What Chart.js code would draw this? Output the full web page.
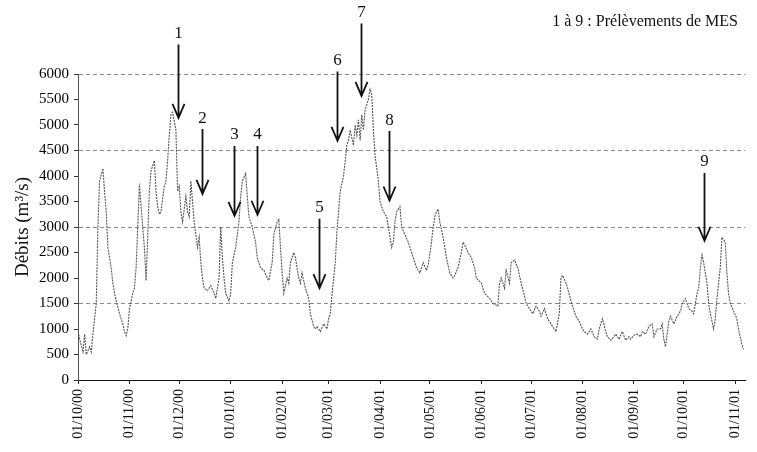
<!DOCTYPE html>
<html>
<head>
<meta charset="utf-8">
<script src="https://cdn.jsdelivr.net/npm/chart.js@4"></script>
<style>
    html, body { margin: 0; padding: 0; background: #fff; }
</style>
</head>
<body>
<canvas id="flowChart" width="757" height="452"></canvas>
<script>
// Daily discharge, 01/10/00 -> 01/11/01 (day 0 = 1 Oct 2000)
const flowDays = [
    0, 1, 3, 4, 5, 7, 8, 9, 11, 12, 13, 15, 16, 17, 18, 20, 21, 22, 23, 25,
    27, 28, 29, 30, 31, 33, 34, 35, 36, 37, 38, 40, 41, 42, 43, 44, 46, 47, 48, 49,
    50, 52, 53, 54, 55, 56, 57, 59, 60, 61, 62, 63, 65, 66, 67, 68, 69, 70, 72, 73,
    74, 75, 76, 78, 80, 82, 83, 85, 86, 87, 88, 89, 91, 92, 93, 94, 95, 97, 98, 99,
    101, 102,
    103, 105, 107, 108, 110, 112, 114, 115, 117, 118, 120, 121, 122, 123, 124, 126, 127, 128, 130, 131,
    133, 134, 135, 137, 139, 140, 142, 143, 144, 146, 148, 150, 151, 152, 153, 155, 156, 157, 158, 160,
    161, 162, 163, 164, 166, 167, 168, 169, 170, 171, 172, 173, 175, 176, 177, 178, 179, 181, 182, 184,
    186, 188, 189, 190, 191, 192, 194, 195, 197, 199, 201, 204, 206, 208, 210, 211, 213, 214, 215, 216,
    217, 218, 220, 222, 224, 226, 227, 229, 231, 232, 233, 235, 237, 239, 240, 243, 245, 248, 250,
    253, 254, 255, 257, 258, 260, 261, 263, 265, 267, 269, 270, 272, 274, 276, 278, 279, 281, 283, 285,
    287, 288, 290, 291, 292, 294, 295, 297, 299, 300, 302, 304, 305, 307, 309, 311, 313, 314, 316, 318,
    319, 321, 323, 324, 326, 328, 330, 332, 333, 335, 337, 339, 340, 342, 344, 346, 347, 349, 351, 352,
    353, 354, 356, 357, 359, 361, 363, 364, 366, 368, 370, 371, 373, 374, 375, 376, 377, 379, 380, 381,
    382, 383, 384, 385, 386, 387, 388, 390, 391, 392, 393, 395, 397, 398, 400, 401
];
const flowValues = [
    950, 800, 550, 900, 500, 650, 550, 900, 1500, 3000, 3900, 4150, 3700, 3300, 2600, 2200, 1900, 1700, 1550, 1300,
    1100, 950, 870, 1000, 1400, 1700, 1800, 2200, 3000, 3850, 3400, 2600, 1950, 2800, 3700, 4100, 4300, 3700, 3400, 3250,
    3300, 3800, 3900, 4300, 4800, 5200, 5250, 4900, 3700, 3800, 3300, 3100, 3600, 3300, 3200, 3900, 3500, 3100, 2600, 2800,
    2300, 2000, 1800, 1750, 1850, 1700, 1600, 2000, 3000, 2400, 2000, 1700, 1550, 1700, 2300, 2450, 2600, 3100, 3600, 3900,
    4050, 3600,
    3200, 3000, 2700, 2400, 2200, 2150, 2000, 1950, 2300, 2850, 3100, 3150, 2600, 2100, 1700, 2000, 1900, 2300, 2500, 2400,
    2000, 1900, 2100, 1800, 1600, 1300, 1050, 1000, 1050, 950, 1100, 1000, 1200, 1300, 1650, 2300, 2900, 3300, 3700, 4000,
    4300, 4600, 4700, 4900, 4600, 5000, 4800, 5100, 4700, 5200, 4900, 5300, 5500, 5700, 5600, 4900, 4400, 3900, 3500, 3300,
    3200, 2800, 2600, 2700, 3100, 3300, 3400, 3000, 2850, 2700, 2500, 2200, 2100, 2300, 2150, 2250, 2700, 3000, 3200, 3300,
    3350, 3100, 2800, 2400, 2100, 2000, 2050, 2200, 2500, 2700, 2650, 2500, 2400, 2200, 2000, 1900, 1700, 1600, 1500,
    1450, 1900, 2000, 1800, 2150, 1900, 2300, 2350, 2200, 1900, 1650, 1500, 1400, 1300, 1450, 1350, 1250, 1400, 1200, 1100,
    1000, 950, 1300, 2000, 2050, 1900, 1800, 1550, 1350, 1250, 1150, 1000, 950, 900, 1000, 850, 800, 1000, 1200, 950,
    850, 780, 850, 900, 800, 950, 780, 850, 800, 880, 900, 850, 950, 900, 1050, 1100, 850, 1000, 1000, 1100,
    800, 650, 1150, 1250, 1100, 1250, 1350, 1500, 1600, 1400, 1350, 1300, 1700, 1800, 2200, 2450, 2300, 1900, 1500, 1300,
    1150, 1000, 1200, 1600, 1900, 2200, 2800, 2700, 2100, 1700, 1500, 1350, 1200, 1000, 700, 600
];

// Month ticks on the date axis
const monthDays = [0, 31, 61, 92, 123, 151, 182, 212, 243, 273, 304, 335, 365, 396];
const monthLabels = [
    '01/10/00', '01/11/00', '01/12/00', '01/01/01', '01/02/01', '01/03/01', '01/04/01',
    '01/05/01', '01/06/01', '01/07/01', '01/08/01', '01/09/01', '01/10/01', '01/11/01'
];

// Sampling arrows (MES): day, arrow tip, arrow tail (m3/s)
const arrowLabels = ['1', '2', '3', '4', '5', '6', '7', '8', '9'];
const arrowDays = [60, 75, 94, 108, 145, 156, 170.5, 187.5, 377];
const arrowTips = [5140, 3650, 3220, 3240, 1800, 4690, 5570, 3520, 2730];
const arrowTails = [6580, 4920, 4590, 4590, 3160, 6050, 6990, 4880, 4060];

const serif = '"Liberation Serif", "Times New Roman", serif';

// Draw the sampling arrows and the note at top right
const arrowPlugin = {
    id: 'sampleArrows',
    afterDatasetsDraw(chart) {
        const { ctx, scales: { x, y } } = chart;
        ctx.save();
        ctx.strokeStyle = '#111';
        ctx.fillStyle = '#111';
        ctx.lineWidth = 1.8;
        ctx.font = '17px ' + serif;
        ctx.textAlign = 'center';
        ctx.textBaseline = 'middle';
        arrowLabels.forEach((label, i) => {
            const px = Math.round(x.getPixelForValue(arrowDays[i])) + 0.5;
            const top = y.getPixelForValue(arrowTails[i]);
            const tip = y.getPixelForValue(arrowTips[i]);
            ctx.beginPath();
            ctx.moveTo(px, top);
            ctx.lineTo(px, tip);
            ctx.moveTo(px - 6, tip - 14);
            ctx.lineTo(px, tip);
            ctx.lineTo(px + 6, tip - 14);
            ctx.stroke();
            ctx.fillText(label, px, top - 11);
        });

        ctx.font = '16px ' + serif;
        ctx.textAlign = 'right';
        ctx.fillText('1 à 9 : Prélèvements de MES', 738, 22);
        ctx.restore();
    }
};

const points = flowDays.map((d, i) => ({ x: d, y: flowValues[i] }));

new Chart(document.getElementById('flowChart'), {
    type: 'line',
    data: {
        datasets: [{
            data: points,
            borderColor: '#555',
            borderWidth: 1.1,
            borderDash: [2, 1],
            pointRadius: 0,
            tension: 0,
            fill: false
        }]
    },
    options: {
        responsive: false,
        animation: false,
        devicePixelRatio: 1,
        layout: { padding: { top: 74, right: 0, bottom: 0, left: 0 } },
        plugins: {
            legend: { display: false },
            tooltip: { enabled: false }
        },
        scales: {
            x: {
                type: 'linear',
                min: 0,
                max: 402,
                afterBuildTicks: axis => {
                    axis.ticks = monthDays.map(v => ({ value: v }));
                },
                afterFit: scale => { scale.height = 72; },
                ticks: {
                    autoSkip: false,
                    maxRotation: 90,
                    minRotation: 90,
                    padding: 5,
                    color: '#111',
                    font: { family: serif, size: 14 },
                    callback: (value, index) => monthLabels[index]
                },
                grid: {
                    drawOnChartArea: false,
                    drawTicks: true,
                    tickLength: 4,
                    color: '#222'
                },
                border: { color: '#111', width: 1 }
            },
            y: {
                min: 0,
                max: 6000,
                afterFit: scale => { scale.width = 78; },
                ticks: {
                    stepSize: 500,
                    padding: 5,
                    color: '#000',
                    font: { family: serif, size: 15 },
                    callback: value => String(value)
                },
                grid: {
                    color: c => (c.tick && c.tick.value > 0 && c.tick.value % 1500 === 0) ? '#8a8a8a' : 'rgba(0,0,0,0)',
                    tickColor: '#333',
                    tickLength: 4,
                    lineWidth: 1
                },
                border: { color: '#555', width: 1, dash: [4, 3] },
                title: {
                    display: true,
                    text: 'Débits (m³/s)',
                    color: '#111',
                    font: { family: serif, size: 19 },
                    padding: { top: 12, bottom: 4 }
                }
            }
        }
    },
    plugins: [arrowPlugin]
});
</script>
</body>
</html>
